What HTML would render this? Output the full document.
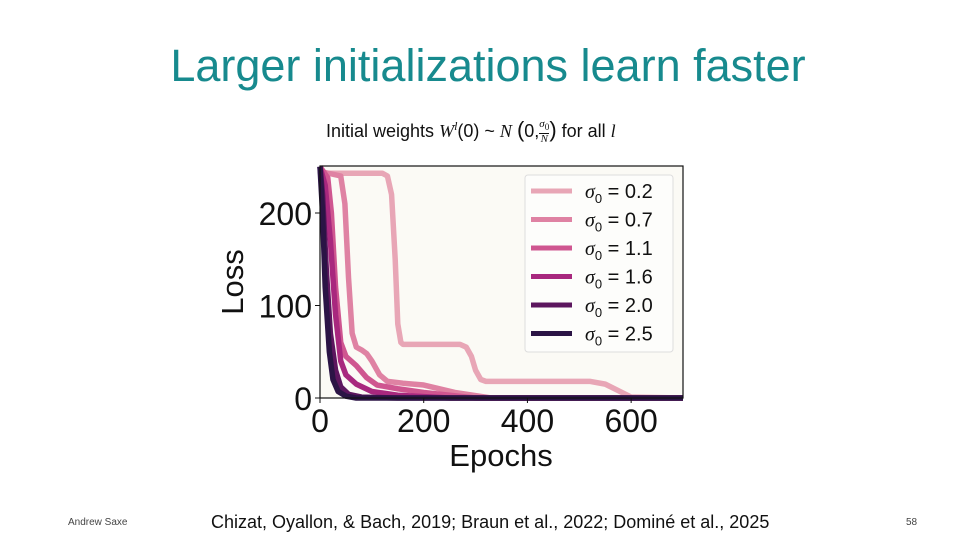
<!DOCTYPE html>
<html><head><meta charset="utf-8">
<style>
body{margin:0;width:976px;height:549px;background:#fff;overflow:hidden;font-family:"Liberation Sans",sans-serif;position:relative}
.t{position:absolute;white-space:nowrap}
</style></head>
<body>
<div class="t" style="left:0;width:976px;text-align:center;top:40px;font-size:45px;color:#178a8e">Larger initializations learn faster</div>
<div class="t" style="left:326px;top:117px;font-size:18px;color:#111">Initial weights <i style="font-family:'Liberation Serif'">W<sup style="font-size:12px">l</sup></i>(0) ~ <i style="font-family:'Liberation Serif'">N</i> <span style="font-size:22px">(</span>0,<span style="display:inline-block;vertical-align:middle;text-align:center;font-size:11px;line-height:11px;font-family:'Liberation Serif'"><i>σ</i><sub>0</sub><br><span style="border-top:1px solid #111;display:block"><i>N</i></span></span><span style="font-size:22px">)</span> for all <i style="font-family:'Liberation Serif'">l</i></div>
<svg id="chart" width="976" height="549" style="position:absolute;left:0;top:0"></svg>
<div class="t" style="left:68px;top:517px;font-size:10px;color:#444">Andrew Saxe</div>
<div class="t" style="left:211px;top:512px;font-size:18px;color:#111">Chizat, Oyallon, &amp; Bach, 2019; Braun et al., 2022; Dominé et al., 2025</div>
<div class="t" style="left:906px;top:517px;font-size:10px;color:#444">58</div>
<script>
const sigmas=["0.2","0.7","1.1","1.6","2.0","2.5"];
const colors=["#e8a6b6","#df82a3","#cf5690","#a8287e","#5c165e","#2b1445"];
const epochs=[[0,120,130,138,145,150,156,160,270,282,292,300,310,320,520,550,575,600,700],[0,40,48,55,62,70,80,90,100,115,130,160,200,260,330,700],[0,15,22,30,40,50,70,90,110,150,200,300,700],[0,10,20,30,40,50,70,100,150,250,700],[0,5,12,20,30,40,55,80,150,700],[0,5,10,18,25,35,50,70,150,700]];
const losses=[[243,243,240,220,150,80,60,58,58,55,45,30,20,18,18,15,8,1,0],[245,240,210,130,70,55,52,48,40,25,18,16,14,6,0,0],[250,238,200,120,60,45,35,22,14,10,6,0,0],[250,230,170,90,40,25,15,7,3,0,0],[250,220,140,70,30,12,4,1,0,0],[250,200,120,50,20,7,2,0,0,0]];
const xTicks=[0,200,400,600], yTicks=[0,100,200];
const ns="http://www.w3.org/2000/svg", svg=document.getElementById('chart');
const X0=320,X1=683,Y0=398,YT=166;
const xs=v=>X0+(v/700)*(X1-X0), ys=v=>Y0-(v/200)*(Y0-213);
function mk(t,a){const e=document.createElementNS(ns,t);for(const k in a)e.setAttribute(k,a[k]);svg.appendChild(e);return e;}
const bg=mk('rect',{x:X0,y:YT,width:X1-X0,height:Y0-YT,fill:'#fbfaf5'});


for(let i=0;i<sigmas.length;i++){
 const d=epochs[i].map((e,j)=>(j?'L':'M')+xs(e)+','+ys(losses[i][j])).join('');
 const p=mk('path',{d:d,fill:'none',stroke:colors[i],'stroke-width':5.5,'stroke-linejoin':'round'});
 
 
}
mk('rect',{x:X0,y:YT,width:X1-X0,height:Y0-YT,fill:'none',stroke:'#111','stroke-width':1.2});
xTicks.forEach(v=>{mk('line',{x1:xs(v),x2:xs(v),y1:Y0,y2:Y0+5,stroke:'#111'});
 const t=mk('text',{x:xs(v),y:Y0+34,'text-anchor':'middle','font-size':32,fill:'#111'});t.textContent=v;
 
 });
yTicks.forEach(v=>{mk('line',{x1:X0-5,x2:X0,y1:ys(v),y2:ys(v),stroke:'#111'});
 const t=mk('text',{x:X0-8,y:ys(v)+12,'text-anchor':'end','font-size':32,fill:'#111'});t.textContent=v;
 
 });
const xl=mk('text',{x:501,y:466,'text-anchor':'middle','font-size':31,fill:'#111'});xl.textContent='Epochs';


const yl=mk('text',{x:0,y:0,'text-anchor':'middle','font-size':31,fill:'#111',transform:'translate(243,282) rotate(-90)'});yl.textContent='Loss';


const lg=mk('rect',{x:525,y:175,width:148,height:177,rx:3,fill:'#fdfdfb',stroke:'#ddd'});


sigmas.forEach((s,i)=>{const y=191+i*28.5;
 mk('line',{x1:531,x2:572,y1:y,y2:y,stroke:colors[i],'stroke-width':5});
 const t=mk('text',{x:585,y:y+7,'font-size':20,fill:'#111'});
 t.innerHTML='<tspan font-style="italic" font-family="Liberation Serif">σ</tspan><tspan font-size="13" dy="5">0</tspan><tspan dy="-5"> = '+s+'</tspan>';
 
 });
</script>
</body></html>
